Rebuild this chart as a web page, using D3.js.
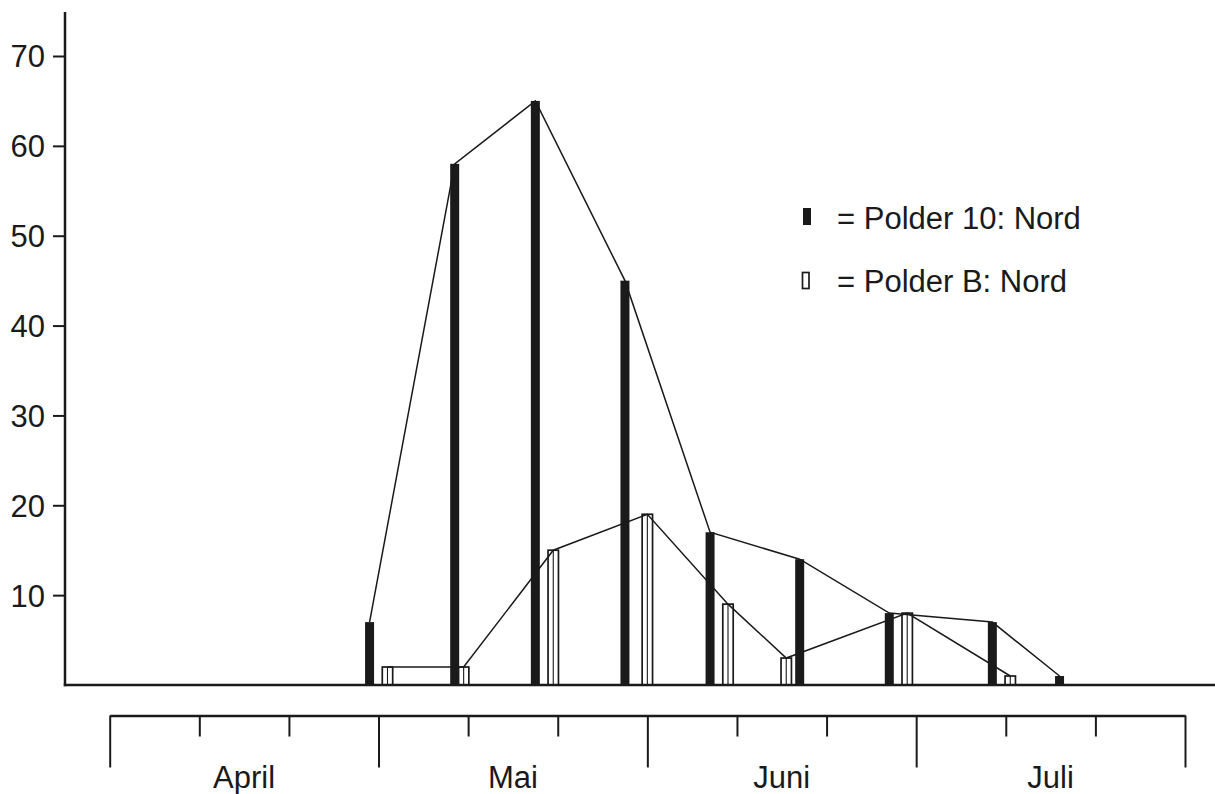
<!DOCTYPE html>
<html>
<head>
<meta charset="utf-8">
<script src="https://cdn.jsdelivr.net/npm/d3@7"></script>
<style>
  body { margin: 0; background: #fff; }
  svg { display: block; }
  text { font-family: "Liberation Sans", Arial, Helvetica, sans-serif; }
</style>
</head>
<body>
<svg id="chart" width="1215" height="794"></svg>
<script>
// ---- data (x = day counted from 1 April, each month = 30 days / 3 decades) ----
const months = ["April", "Mai", "Juni", "Juli"];
const dayTicks = [0, 10, 20, 30, 40, 50, 60, 70, 80, 90, 100, 110, 120];
const yTicks = [10, 20, 30, 40, 50, 60, 70];

const polder10Days   = [29, 38.5, 47.5, 57.5, 67, 77, 87, 98.5, 106];
const polder10Values = [7, 58, 65, 45, 17, 14, 8, 7, 1];

const polderBDays   = [31, 39.5, 49.5, 60, 69, 75.5, 89, 100.5];
const polderBValues = [2, 2, 15, 19, 9, 3, 8, 1];

const legendLabels = ["= Polder 10: Nord", "= Polder B: Nord"];

// ---- layout ----
const ink = "#1a1a1a";
const fontSize = 31;
const svg = d3.select("#chart");

const x = d3.scaleLinear().domain([0, 120]).range([109.7, 1185]);
const y = d3.scaleLinear().domain([0, 70]).range([685, 56]);
const axisX = 65;

const polder10 = polder10Days.map((d, i) => ({ day: d, value: polder10Values[i] }));
const polderB = polderBDays.map((d, i) => ({ day: d, value: polderBValues[i] }));

// y axis
const yAxis = svg.append("g")
  .attr("transform", `translate(${axisX},0)`)
  .call(d3.axisLeft(y).tickValues(yTicks).tickSize(12).tickSizeOuter(0).tickPadding(8));
yAxis.select(".domain").remove();
yAxis.attr("color", ink).attr("font-size", fontSize)
  .attr("font-family", '"Liberation Sans", Arial, sans-serif');
yAxis.selectAll(".tick line").attr("stroke-width", 2);
yAxis.selectAll(".tick text").attr("dy", "0.35em");

svg.append("line")
  .attr("x1", axisX).attr("x2", axisX)
  .attr("y1", 12).attr("y2", y(0) + 1.2)
  .attr("stroke", ink).attr("stroke-width", 2.5);

// bars: Polder B (open)
const bBars = svg.append("g").selectAll("g").data(polderB).join("g");
bBars.append("rect")
  .attr("x", d => x(d.day) - 5.2)
  .attr("width", 10.4)
  .attr("y", d => y(d.value))
  .attr("height", d => y(0) - y(d.value))
  .attr("fill", "#fff").attr("stroke", ink).attr("stroke-width", 1.7);
bBars.append("line")
  .attr("x1", d => x(d.day)).attr("x2", d => x(d.day))
  .attr("y1", d => y(d.value)).attr("y2", y(0))
  .attr("stroke", ink).attr("stroke-width", 1.1);

// bars: Polder 10 (filled)
svg.append("g").selectAll("rect").data(polder10).join("rect")
  .attr("x", d => x(d.day) - 4.5)
  .attr("width", 9)
  .attr("y", d => y(d.value))
  .attr("height", d => y(0) - y(d.value))
  .attr("fill", ink);

// connecting lines
const line = d3.line().x(d => x(d.day)).y(d => y(d.value));
svg.append("path").datum(polder10).attr("d", line)
  .attr("fill", "none").attr("stroke", ink).attr("stroke-width", 1.5);
svg.append("path").datum(polderB).attr("d", line)
  .attr("fill", "none").attr("stroke", ink).attr("stroke-width", 1.5);

// baseline
svg.append("line")
  .attr("x1", axisX - 1.2).attr("x2", 1215)
  .attr("y1", y(0)).attr("y2", y(0))
  .attr("stroke", ink).attr("stroke-width", 2.5);

// lower time axis
const xAxis = svg.append("g")
  .attr("transform", "translate(0,715.5)")
  .call(d3.axisBottom(x).tickValues(dayTicks).tickSize(52).tickSizeOuter(0).tickFormat(""));
xAxis.attr("color", ink);
xAxis.select(".domain").attr("stroke-width", 2.5);
xAxis.selectAll(".tick line")
  .attr("y2", d => (d % 30 === 0 ? 52 : 21))
  .attr("stroke-width", 2);

svg.append("g").selectAll("text").data(months).join("text")
  .attr("x", (d, i) => x(i * 30 + 15))
  .attr("y", 788)
  .attr("text-anchor", "middle")
  .attr("font-size", fontSize)
  .attr("fill", ink)
  .text(d => d);

// legend
const legend = svg.append("g");
legend.append("rect")
  .attr("x", 803).attr("y", 208).attr("width", 8).attr("height", 17)
  .attr("fill", ink);
legend.append("rect")
  .attr("x", 802.5).attr("y", 272.5).attr("width", 6.5).attr("height", 16)
  .attr("fill", "#fff").attr("stroke", ink).attr("stroke-width", 1.7);
legend.selectAll("text").data(legendLabels).join("text")
  .attr("x", 837)
  .attr("y", (d, i) => 228.5 + i * 63)
  .attr("font-size", fontSize)
  .attr("fill", ink)
  .text(d => d);
</script>
</body>
</html>
